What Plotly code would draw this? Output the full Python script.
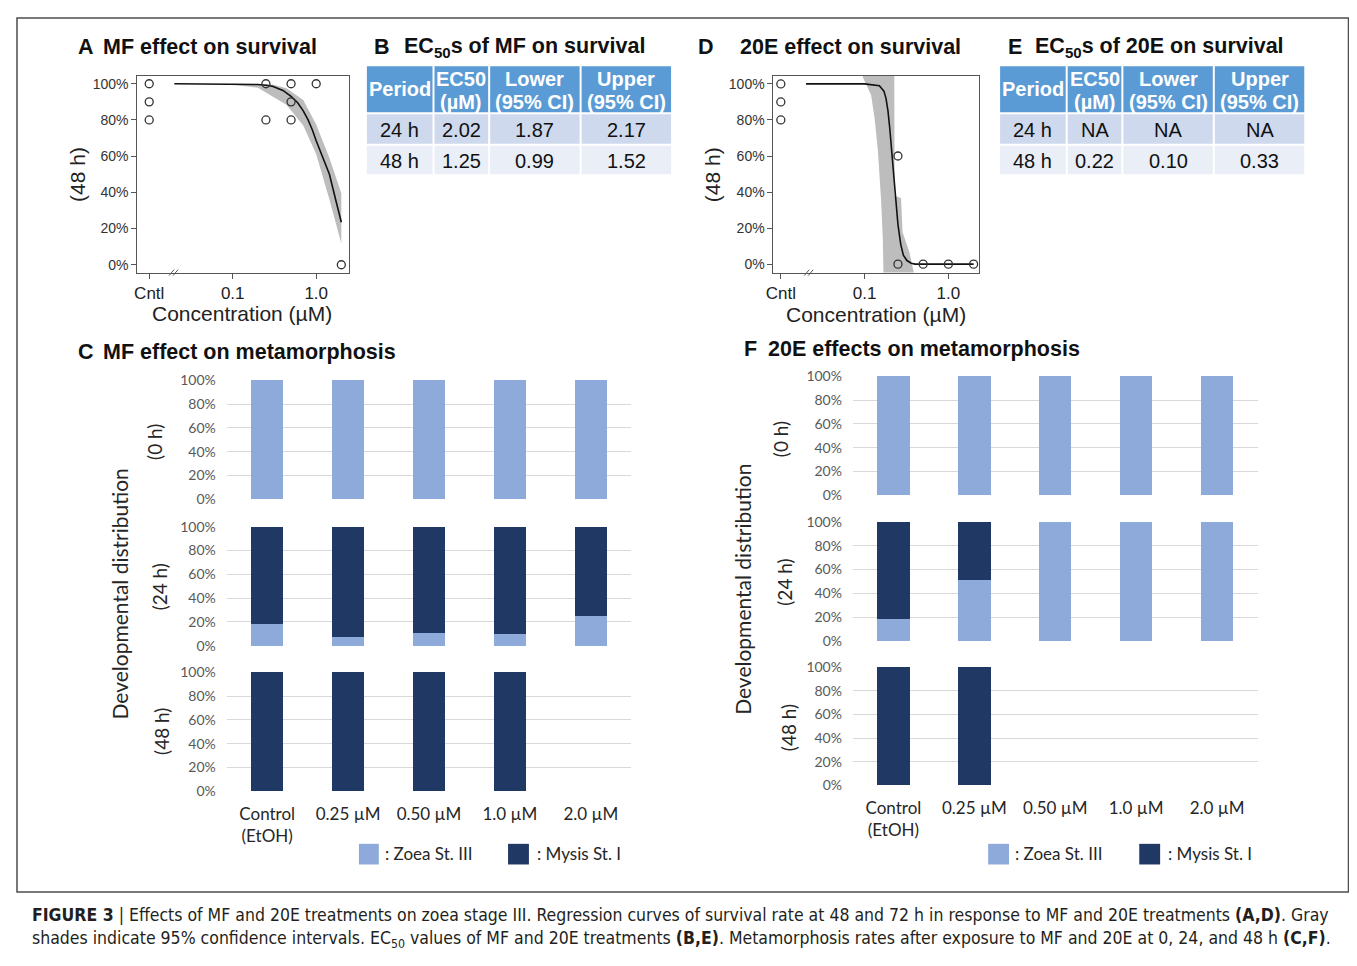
import plotly.graph_objects as go

# The page keeps the browser's default 8 px body margin, so the figure is
# sized to fill the 1357x966 window exactly inside that margin.
PAGE_W, PAGE_H, OFF = 1357, 966, 8
W, H = PAGE_W - 2 * OFF, PAGE_H - 2 * OFF


def px(x):
    return (x - OFF) / W


def py(y):
    return 1 - (y - OFF) / H


# ---------------- data ----------------
# Panel A: MF survival (48 h)
a_pts_x = [0.01, 0.01, 0.01, 0.25, 0.25, 0.5, 0.5, 0.5, 1.0, 2.0]
a_pts_y = [100, 90, 80, 100, 80, 100, 90, 80, 100, 0]
a_fit_x = [0.02, 0.1, 0.15, 0.2, 0.25, 0.3, 0.4, 0.5, 0.6, 0.7, 0.8, 0.9, 1.0, 1.2, 1.44, 1.7, 2.0]
a_fit_y = [100, 99.9, 99.8, 99.6, 99.2, 98.6, 96.3, 93, 89.5, 85, 80, 74.5, 68.5, 59, 50, 36.5, 23.5]
a_ci_x = [0.1, 0.2, 0.3, 0.44, 0.7, 1.0, 1.44, 2.0]
a_ci_hi = [100, 100, 99.6, 97.5, 91, 77.5, 59, 39.5]
a_ci_lo = [99.5, 97.8, 93, 88.4, 77, 61, 36, 11.8]

# Panel D: 20E survival (48 h)
d_pts_x = [0.01, 0.01, 0.01, 0.25, 0.25, 0.5, 1.0, 2.0]
d_pts_y = [100, 90, 80, 60, 0, 0, 0, 0]
d_fit_x = [0.02, 0.1, 0.15, 0.17, 0.18, 0.19, 0.2, 0.21, 0.22, 0.23, 0.24, 0.25, 0.27, 0.29, 0.32, 0.36, 0.4, 0.5, 1.0, 2.0]
d_fit_y = [100, 100, 99, 96, 92, 85, 75, 64, 52, 40, 30, 22, 11, 5, 2, 0.5, 0, 0, 0, 0]
d_ci_hi_x = [0.0955, 0.226, 0.228, 0.272, 0.284, 0.342, 0.392]
d_ci_hi = [110, 110, 38, 36.7, 17.7, 6.8, -6]
d_ci_lo_x = [0.0955, 0.1197, 0.1315, 0.144, 0.157, 0.165, 0.168, 0.392]
d_ci_lo = [103.6, 93.7, 81, 63, 36, 14, -6, -6]

# Tables B and E
tbl_header = ["Period", "EC50<br>(µM)", "Lower<br>(95% CI)", "Upper<br>(95% CI)"]
tbl_period = ["24 h", "48 h"]
b_ec50 = ["2.02", "1.25"]
b_lower = ["1.87", "0.99"]
b_upper = ["2.17", "1.52"]
e_ec50 = ["NA", "0.22"]
e_lower = ["NA", "0.10"]
e_upper = ["NA", "0.33"]

# Panels C and F: developmental distribution (%)
cats = ["Control<br>(EtOH)", "0.25 µM", "0.50 µM", "1.0 µM", "2.0 µM"]
c_zoea = {
    "0h": [100, 100, 100, 100, 100],
    "24h": [18, 7, 10.5, 9.5, 25],
    "48h": [0, 0, 0, 0, None],
}
c_mysis = {
    "0h": [0, 0, 0, 0, 0],
    "24h": [82, 93, 89.5, 90.5, 75],
    "48h": [100, 100, 100, 100, None],
}
f_zoea = {
    "0h": [100, 100, 100, 100, 100],
    "24h": [18, 51.5, 100, 100, 100],
    "48h": [0, 0, None, None, None],
}
f_mysis = {
    "0h": [0, 0, 0, 0, 0],
    "24h": [82, 48.5, 0, 0, 0],
    "48h": [100, 100, None, None, None],
}
pct_vals = [0, 20, 40, 60, 80, 100]
pct_text = ["0%", "20%", "40%", "60%", "80%", "100%"]

ZOEA = "#8eaadb"
MYSIS = "#203864"
GRID = "#d9d9d9"
ARIAL = "Liberation Sans, Arial, sans-serif"
CALI = "Lato, Carlito, Calibri, sans-serif"

fig = go.Figure()


# ---------- survival panels ----------
def survival(ci_x_up, ci_up, ci_x_lo, ci_lo, fit_x, fit_y, pts_x, pts_y, ax):
    xa = "x" if ax == 1 else f"x{ax}"
    ya = "y" if ax == 1 else f"y{ax}"
    fig.add_trace(go.Scatter(x=list(ci_x_up) + list(ci_x_lo)[::-1], y=list(ci_up) + list(ci_lo)[::-1],
                             fill="toself", fillcolor="#bdbdbd", line=dict(width=0),
                             mode="lines", xaxis=xa, yaxis=ya, showlegend=False, hoverinfo="skip"))
    fig.add_trace(go.Scatter(x=fit_x, y=fit_y, mode="lines", line=dict(color="#111", width=1.6),
                             xaxis=xa, yaxis=ya, showlegend=False))
    fig.add_trace(go.Scatter(x=pts_x, y=pts_y, mode="markers",
                             marker=dict(symbol="circle-open", size=8, color="#333", line=dict(width=1.3)),
                             xaxis=xa, yaxis=ya, showlegend=False, cliponaxis=False))


survival(a_ci_x, a_ci_hi, a_ci_x, a_ci_lo, a_fit_x, a_fit_y, a_pts_x, a_pts_y, 1)
survival(d_ci_hi_x, d_ci_hi, d_ci_lo_x, d_ci_lo, d_fit_x, d_fit_y, d_pts_x, d_pts_y, 2)


# ---------- bars ----------
def bars(zoea, mysis, axes):
    for key, ax in zip(["0h", "24h", "48h"], axes):
        fig.add_trace(go.Bar(x=cats, y=zoea[key], marker=dict(color=ZOEA, line=dict(width=0)),
                             xaxis=f"x{ax}", yaxis=f"y{ax}", showlegend=False, name="Zoea St. III"))
        fig.add_trace(go.Bar(x=cats, y=mysis[key], marker=dict(color=MYSIS, line=dict(width=0)),
                             xaxis=f"x{ax}", yaxis=f"y{ax}", showlegend=False, name="Mysis St. I"))


bars(c_zoea, c_mysis, [3, 4, 5])
bars(f_zoea, f_mysis, [6, 7, 8])

# ---------- layout axes ----------
layout = dict(
    width=W, height=H, margin=dict(l=0, r=0, t=0, b=0),
    paper_bgcolor="white", plot_bgcolor="white",
    barmode="stack", bargap=0.6, showlegend=False,
    font=dict(family=ARIAL, color="#222"),
)


def surv_axes(n, x0, x1, xr, yr):
    sx = "" if n == 1 else str(n)
    layout[f"xaxis{sx}"] = dict(
        domain=[px(x0), px(x1)], type="log", range=xr, anchor=f"y{sx}",
        tickvals=[0.01, 0.1, 1], ticktext=["Cntl", "0.1", "1.0"],
        ticks="outside", ticklen=5, tickcolor="#555", showline=True, mirror=True,
        linecolor="#555", linewidth=1, showgrid=False, zeroline=False,
        tickfont=dict(family=ARIAL, size=17, color="#222"))
    layout[f"yaxis{sx}"] = dict(
        domain=[py(268), py(68)], range=yr, anchor=f"x{sx}",
        tickvals=pct_vals, ticktext=pct_text, ticks="outside", ticklen=5, tickcolor="#555",
        showline=True, mirror=True, linecolor="#555", linewidth=1, showgrid=False, zeroline=False,
        tickfont=dict(family=ARIAL, size=14, color="#333"))


surv_axes(1, 130, 343, [-2.143, 0.393], [-4.35, 104.3])
surv_axes(2, 770, 977, [-2.088, 0.368], [-4.7, 104.4])


def bar_axes(n, x0, x1, ytop, ybot, bottom):
    layout[f"xaxis{n}"] = dict(
        domain=[px(x0), px(x1)], anchor=f"y{n}", type="category",
        categoryorder="array", categoryarray=cats, range=[-0.5, 4.5],
        showgrid=False, showline=False, zeroline=False, ticks="",
        showticklabels=bottom, ticklabelstandoff=10,
        tickfont=dict(family=CALI, size=17, color="#262626"))
    layout[f"yaxis{n}"] = dict(
        domain=[py(ybot), py(ytop)], anchor=f"x{n}", range=[-0.4, 100.4],
        tickvals=pct_vals, ticktext=pct_text, showgrid=True, gridcolor=GRID, gridwidth=1.3,
        zeroline=False, showline=False, ticks="", ticklabelstandoff=10,
        tickfont=dict(family=CALI, size=14, color="#595959"))


bar_axes(3, 220, 627, 377, 499, False)
bar_axes(4, 220, 627, 526, 648, False)
bar_axes(5, 220, 627, 674, 796, True)
bar_axes(6, 850, 1257, 373, 495, False)
bar_axes(7, 850, 1257, 521, 643, False)
bar_axes(8, 850, 1257, 669, 790, True)

# ---------- annotations & shapes ----------
anns = []
shapes = []


def ann(text, x, y, size, color="#111", bold=False, xanchor="left", angle=0, family=ARIAL):
    if bold:
        text = f"<b>{text}</b>"
    anns.append(dict(text=text, x=px(x), y=py(y), xref="paper", yref="paper", showarrow=False,
                     xanchor=xanchor, yanchor="middle", textangle=angle,
                     font=dict(family=family, size=size, color=color)))


def rect(x0, y0, x1, y1, fill=None, line="#4d4d4d", lw=0):
    shapes.append(dict(type="rect", xref="paper", yref="paper", x0=px(x0), x1=px(x1), y0=py(y0), y1=py(y1),
                       fillcolor=fill if fill else "rgba(0,0,0,0)", line=dict(color=line, width=lw)))


def seg(x0, y0, x1, y1, color="#555", lw=1):
    shapes.append(dict(type="line", xref="paper", yref="paper", x0=px(x0), x1=px(x1), y0=py(y0), y1=py(y1),
                       line=dict(color=color, width=lw)))


# ---------- tables (cells built from the table arrays) ----------
def table(col_edges, columns):
    head_top, head_bot = 58, 105
    row_edges = [(107, 137), (139, 168)]
    row_fill = ["#cfd9ee", "#e9eef7"]
    for j, head in enumerate(tbl_header):
        x0, x1 = col_edges[j] + 1, col_edges[j + 1] - 1
        rect(x0, head_top, x1, head_bot, fill="#5b9bd5", line="#5b9bd5")
        lines = head.split("<br>")
        cx = (x0 + x1) / 2
        if len(lines) == 1:
            ann(lines[0], cx, (head_top + head_bot) / 2, 20, color="white", bold=True, xanchor="center")
        else:
            ann(lines[0], cx, 71.5, 20, color="white", bold=True, xanchor="center")
            ann(lines[1], cx, 94, 20, color="white", bold=True, xanchor="center")
        for i, (r0, r1) in enumerate(row_edges):
            rect(x0, r0, x1, r1, fill=row_fill[i], line=row_fill[i])
            ann(columns[j][i], cx, (r0 + r1) / 2 + 1, 20, color="#111", xanchor="center")


table([360, 428, 484, 576, 668], [tbl_period, b_ec50, b_lower, b_upper])
table([997, 1065, 1121, 1213, 1305], [tbl_period, e_ec50, e_lower, e_upper])

# panel letters and titles
ann("A", 68, 39, 21.5, bold=True)
ann("MF effect on survival", 94, 39, 21.5, bold=True)
ann("B", 366, 39, 21.5, bold=True)
ann("EC<sub>50</sub>s of MF on survival", 396, 39, 21.5, bold=True)
ann("D", 692, 39, 21.5, bold=True)
ann("20E effect on survival", 734, 39, 21.5, bold=True)
ann("E", 1004, 39, 21.5, bold=True)
ann("EC<sub>50</sub>s of 20E on survival", 1031, 39, 21.5, bold=True)
ann("C", 68, 349, 21.5, bold=True)
ann("MF effect on metamorphosis", 94, 349, 21.5, bold=True)
ann("F", 738, 346, 21.5, bold=True)
ann("20E effects on metamorphosis", 763, 346, 21.5, bold=True)

# survival axis titles
ann("(48 h)", 70, 168, 21, xanchor="center", angle=-90, color="#222")
ann("Concentration (µM)", 235, 310, 21, xanchor="center", color="#222")
ann("(48 h)", 708, 168, 21, xanchor="center", angle=-90, color="#222")
ann("Concentration (µM)", 873, 311, 21, xanchor="center", color="#222")

# bar panel titles
for (lx, ly, txt) in [(148, 440, "(0 h)"), (152, 588, "(24 h)"), (155, 735, "(48 h)"),
                      (777, 437, "(0 h)"), (781, 583, "(24 h)"), (785, 731, "(48 h)")]:
    ann(txt, lx, ly, 19, xanchor="center", angle=-90, family=CALI, color="#262626")
ann("Developmental distribution", 112, 595, 21, xanchor="center", angle=-90, family=CALI, color="#262626")
ann("Developmental distribution", 739, 590, 21, xanchor="center", angle=-90, family=CALI, color="#262626")

# legends (text)
ann(": Zoea St. III", 377, 859, 17, family=CALI, color="#262626")
ann(": Mysis St. I", 530, 859, 17, family=CALI, color="#262626")
ann(": Zoea St. III", 1011, 859, 17, family=CALI, color="#262626")
ann(": Mysis St. I", 1165, 859, 17, family=CALI, color="#262626")

# caption
CAP = "DejaVu Sans Condensed, Liberation Sans Narrow, Arial Narrow, Liberation Sans, sans-serif"
ann("<b>FIGURE 3</b> | Effects of MF and 20E treatments on zoea stage III. Regression curves of survival rate at 48 and 72 h "
    "in response to MF and 20E treatments <b>(A,D)</b>. Gray", 22, 921, 17.5, family=CAP, color="#231f20")
ann("shades indicate 95% confidence intervals. EC<sub>50</sub> values of MF and 20E treatments <b>(B,E)</b>. "
    "Metamorphosis rates after exposure to MF and 20E at 0, 24, and 48 h <b>(C,F)</b>.", 22, 946, 17.5,
    family=CAP, color="#231f20")

layout["annotations"] = anns

rect(9, 9, 1348.5, 898, line="#4d4d4d", lw=1.5)
# legend swatches
rect(353, 849, 373, 870, fill=ZOEA, line=ZOEA)
rect(503, 849, 524, 870, fill=MYSIS, line=MYSIS)
rect(986, 849, 1007, 870, fill=ZOEA, line=ZOEA)
rect(1138, 849, 1159, 870, fill=MYSIS, line=MYSIS)
# axis break marks
for bx in (164, 803):
    seg(bx - 2, 271, bx + 3, 265)
    seg(bx + 2, 271, bx + 7, 265)

layout["shapes"] = shapes
fig.update_layout(**layout)
fig.write_html("out.html", config={"displayModeBar": False})
